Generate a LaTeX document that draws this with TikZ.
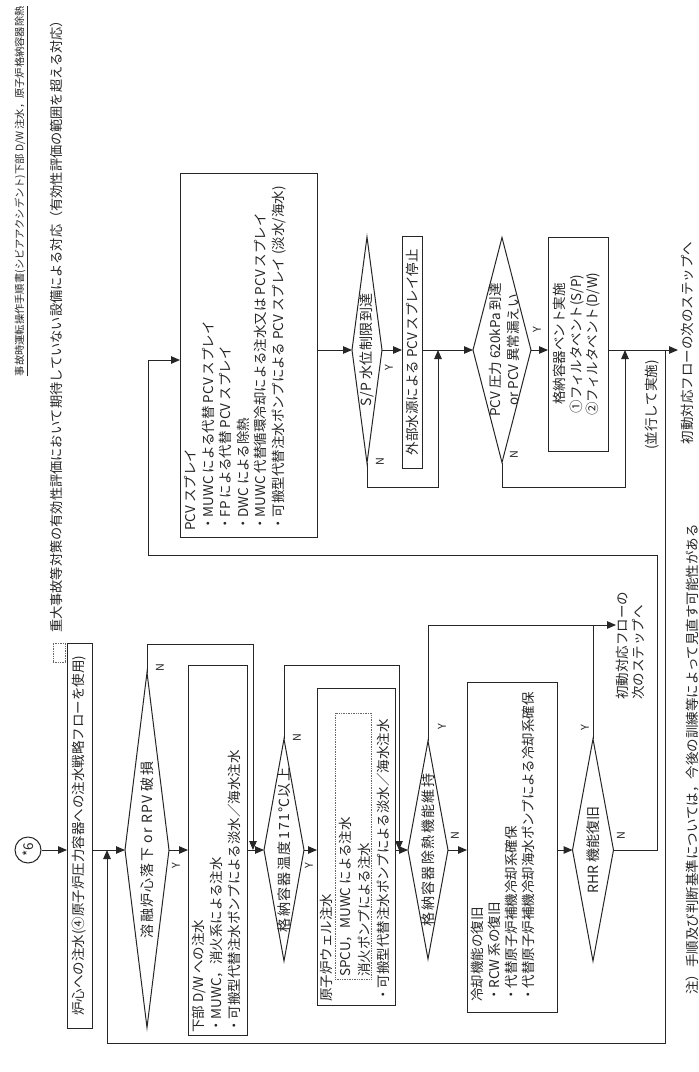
\documentclass[tikz,border=0pt]{standalone}
\usepackage{fontspec}
\setmainfont{Noto Sans CJK JP}
\usepackage{graphicx}
\usetikzlibrary{arrows.meta,shapes.geometric,calc}
\newcommand{\R}[2]{\rotatebox{90}{\begin{tabular}{@{}#1@{}}#2\end{tabular}}}
\newcommand{\YN}[1]{\scalebox{0.8}{\rotatebox{90}{#1}}}
\begin{document}
\begin{tikzpicture}[x=1pt,y=-1pt,
  ln/.style={line width=1pt, draw=black!85},
  arr/.style={ln, -{Triangle[length=9pt,width=7.5pt]}},
  box/.style={draw=black!85, line width=1pt, inner sep=0pt, outer sep=0pt, text=black!85, font=\fontsize{13.5}{17}\selectfont},
  dia/.style={diamond, draw=black!85, line width=1pt, inner sep=0pt, outer sep=0pt},
  txt/.style={inner sep=0pt, text=black!85, font=\fontsize{13.5}{17}\selectfont},
  dtxt/.style={inner sep=0pt, text=black!85, font=\fontsize{14}{16}\selectfont\addfontfeatures{LetterSpace=#1}},
  yn/.style={inner sep=0pt, text=black!85, font=\fontsize{13.5}{15}\selectfont},
]
\fill[white] (0,0) rectangle (699,1072);
\useasboundingbox (0,0) rectangle (699,1072);

% headers
\node[txt, anchor=north] (hdr1) at (20,6) {\resizebox{!}{370pt}{\rotatebox{90}{事故時運転操作手順書(シビアアクシデント)下部 D/W 注水，原子炉格納容器除熱}}};
\draw[line width=0.8pt, draw=black!85] ([xshift=1.5pt]hdr1.south east) -- ([xshift=1.5pt]hdr1.north east);
\node[draw=black!60, densely dotted, line width=0.7pt, inner sep=0pt, minimum width=12pt, minimum height=19pt] (leg) at (59,652.5) {};
\node[txt, font=\fontsize{13.2}{16}\selectfont, anchor=south] (hdr2) at (56,633) {\rotatebox{90}{重大事故等対策の有効性評価において期待していない設備による対応（有効性評価の範囲を超える対応）}};

% start
\node[circle, draw=black!85, line width=1pt, minimum size=26pt, inner sep=0pt, text=black!85, font=\fontsize{13.5}{15}\selectfont] (c6) at (28,850) {\rotatebox{90}{*6}};
\node[box, minimum width=25pt, minimum height=385pt] (bA) at (79.5,835.5) {\rotatebox{90}{炉心への注水(④原子炉圧力容器への注水戦略フローを使用)}};
\coordinate (j1) at (107,850);
\coordinate (lp1) at (107,1043);

% D1
\node[dia, minimum width=44pt, minimum height=355pt] (d1) at (147,850) {};
\node[dtxt=9] (d1t) at (d1) {\rotatebox{90}{溶融炉心落下 or RPV 破損}};
\node[yn] (d1y) at (176,866) {\YN{Y}};
\node[yn] (d1n) at (160,668) {\YN{N}};
\coordinate (n1) at (253,644);

% box B
\node[box, minimum width=59pt, minimum height=370pt] (bB) at (217.5,850) {};
\node[txt, font=\fontsize{13.5}{18}\selectfont, anchor=south] (bBt) at (217.5,1033) {\R{l}{下部 D/W への注水\\・MUWC，消火系による注水\\・可搬型代替注水ポンプによる淡水／海水注水}};

% D2
\node[dia, minimum width=40pt, minimum height=222pt] (d2) at (284,850) {};
\node[dtxt=10] (d2t) at (d2) {\rotatebox{90}{格納容器温度171℃以上}};
\node[yn] (d2y) at (309,866) {\YN{Y}};
\node[yn] (d2n) at (297,738) {\YN{N}};
\coordinate (n2) at (399,665);

% box C
\node[box, minimum width=78pt, minimum height=317pt] (bC) at (356,846.5) {};
\node[draw=black!60, densely dotted, line width=0.7pt, inner sep=0pt, minimum width=36pt, minimum height=266pt] (bCd) at (353,846) {};
\node[txt, font=\fontsize{13.5}{19}\selectfont, anchor=south west] (bCt) at (317.5,1002) {\R{l}{原子炉ウェル注水\\\hspace{25pt}SPCU，MUWC による注水\\\hspace{25pt}消火ポンプによる注水\\・可搬型代替注水ポンプによる淡水／海水注水}};

% D3
\node[dia, minimum width=40pt, minimum height=218pt] (d3) at (428,850) {};
\node[dtxt=10] (d3t) at (d3) {\rotatebox{90}{格納容器除熱機能維持}};
\node[yn] (d3y) at (442,727) {\YN{Y}};
\node[yn] (d3n) at (455,836) {\YN{N}};

% box D
\node[box, minimum width=90pt, minimum height=330pt] (bD) at (512,847) {};
\node[txt, font=\fontsize{13.5}{17}\selectfont, anchor=south west] (bDt) at (470,1002) {\R{l}{冷却機能の復旧\\・RCW 系の復旧\\・代替原子炉補機冷却系確保\\・代替原子炉補機冷却海水ポンプによる冷却系確保}};

% RHR
\node[dia, minimum width=41pt, minimum height=222pt] (rhr) at (593,850) {};
\node[dtxt=1] (rhrt) at (rhr) {\rotatebox{90}{RHR 機能復旧}};
\node[yn] (rhry) at (585,728) {\YN{Y}};
\node[yn] (rhrn) at (621,836) {\YN{N}};
\coordinate (c3) at (593,625);
\node[txt, font=\fontsize{13.5}{15}\selectfont, anchor=south west] (next1) at (616,700) {\R{l}{初動対応フローの\\次のステップへ}};
\coordinate (r1) at (657,555);
\coordinate (r2) at (148,360);

% box E
\node[box, minimum width=137pt, minimum height=364pt] (bE) at (248.5,355) {};
\node[txt, font=\fontsize{13.5}{17.6}\selectfont, anchor=south west] (bEt) at (183,531) {\R{l}{PCV スプレイ\\・MUWC による代替 PCV スプレイ\\・FP による代替 PCV スプレイ\\・DWC による除熱\\・MUWC 代替循環冷却による注水又は PCV スプレイ\\・可搬型代替注水ポンプによる PCV スプレイ (淡水/海水)}};

% D4
\node[dia, minimum width=30pt, minimum height=226pt] (d4) at (367,350) {};
\node[dtxt=3] (d4t) at (d4) {\rotatebox{90}{S/P 水位制限到達}};
\node[yn] (d4y) at (389,368) {\YN{Y}};
\node[yn] (d4n) at (380,462) {\YN{N}};
\coordinate (n4) at (438,487);

% box F
\node[box, minimum width=20pt, minimum height=232pt] (bF) at (412,352) {\rotatebox{90}{外部水源による PCV スプレイ停止}};

% D5
\node[dia, minimum width=58pt, minimum height=225pt] (d5) at (502,350) {};
\node[txt, font=\fontsize{13.5}{18}\selectfont] (d5t) at (506,350) {\R{c}{PCV 圧力 620kPa 到達\\or PCV 異常漏えい}};
\node[yn] (d5y) at (537,330) {\YN{Y}};
\node[yn] (d5n) at (514,455) {\YN{N}};
\coordinate (n5) at (625,487);

% box G
\node[box, font=\fontsize{13.5}{16.5}\selectfont, minimum width=60pt, minimum height=214pt] (bG) at (578,344) {\R{c}{格納容器ベント実施\\①フィルタベント(S/P)\\②フィルタベント(D/W)}};
\coordinate (jE) at (665,350);
\node[txt, anchor=west] (next2) at (681,343) {\rotatebox{90}{初動対応フローの次のステップへ}};
\node[txt] (par) at (652,405) {\rotatebox{90}{(並行して実施)}};
\node[txt, anchor=south] (foot) at (692,995) {\rotatebox{90}{注）手順及び判断基準については，今後の訓練等によって見直す可能性がある}};

% connectors lower row
\draw[arr] (c6) -- (c6 -| bA.west);
\draw[arr] (bA.east |- d1) -- (d1.west);
\draw[arr] (d1.north) |- (n1) -- (n1 |- d1);
\draw[arr] (d1.east) -- (d1.east -| bB.west);
\draw[arr] (bB.east |- d2) -- (d2.west);
\draw[arr] (d2.north) |- (n2) -- (n2 |- d2);
\draw[arr] (d2.east) -- (d2.east -| bC.west);
\draw[arr] (bC.east |- d3) -- (d3.west);
\draw[arr] (d3.north) |- (c3) -- (c3 -| next1.west);
\draw[ln] (rhr.north) -- (c3);
\draw[arr] (d3.east) -- (d3.east -| bD.west);
\draw[arr] (bD.east |- rhr) -- (rhr.west);
\draw[arr] (rhr.east) -| (r1) -- (r1 -| r2) -- (r2) -- (r2 -| bE.west);

% connectors upper row
\draw[arr] (bE.east |- d4) -- (d4.west);
\draw[arr] (d4.east) -- (d4.east -| bF.west);
\draw[arr] (d4.south) |- (n4) -- (n4 |- d4);
\draw[arr] (bF.east |- d5) -- (d5.west);
\draw[arr] (d5.east) -- (d5.east -| bG.west);
\draw[arr] (d5.south) |- (n5) -- (n5 |- d5);
\draw[ln] (bG.east |- d5) -- (jE);
\draw[arr] (jE) -- ($(next2.west |- d5)+(-3,0)$);
\draw[arr] (jE) |- (lp1) -- (j1);
\end{tikzpicture}
\end{document}
